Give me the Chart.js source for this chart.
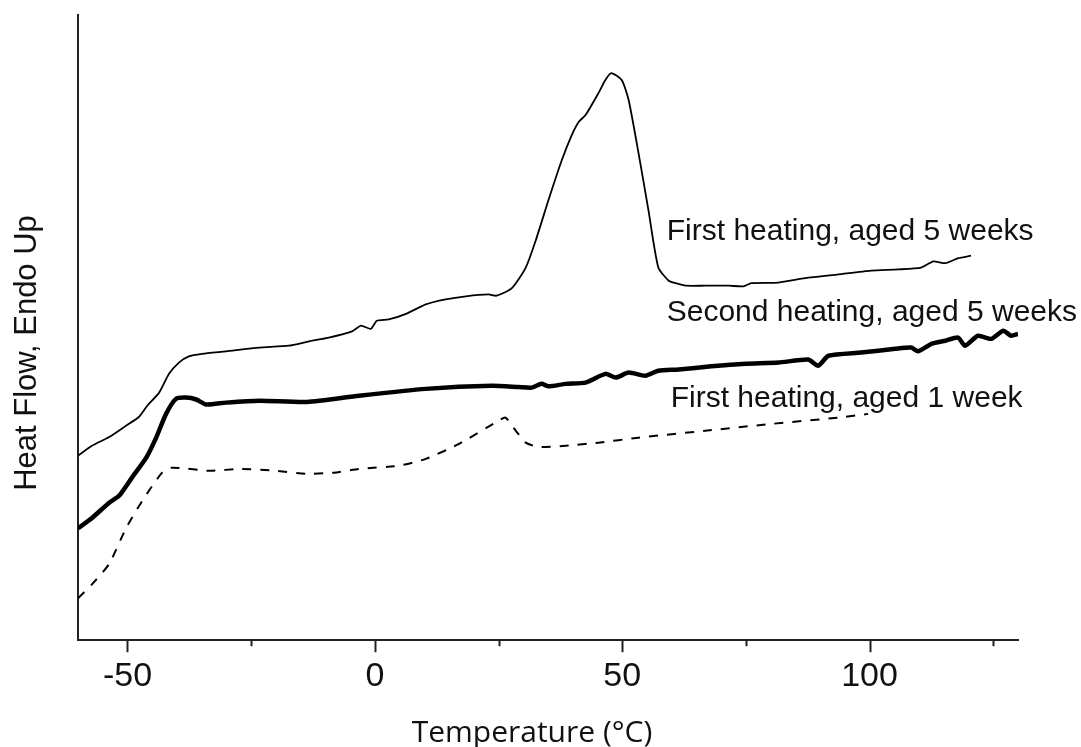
<!DOCTYPE html>
<html>
<head>
<meta charset="utf-8">
<script src="https://cdn.jsdelivr.net/npm/chart.js@4"></script>
<style>
  body { margin: 0; background: #fff; }
  #wrap { width: 1081px; height: 747px; }
</style>
</head>
<body>
<div id="wrap"><canvas id="dsc"></canvas></div>
<script>
// temperatures (°C) and heat flow (arbitrary units, endo up)
const temp5w1 = [-60, -57.2, -53.7, -50.3, -47.7, -46.0, -43.6, -41.6, -39.6, -37.6, -34.9, -30.1, -23.4, -17.4, -13.3, -9.3, -4.6, -2.8, -0.8, 0.4, 2.8, 6.3, 10.3, 14.3, 18.4, 23.0, 24.6, 27.7, 30.5, 32.5, 35.1, 37.8, 39.8, 41.2, 42.6, 45.2, 46.6, 47.8, 49.9, 51.3, 53.3, 55.3, 57.3, 59.4, 60.8, 62.8, 66.8, 71.5, 74.5, 76.1, 81.6, 87.0, 93.7, 100.3, 105.8, 110.4, 112.9, 115.3, 117.9, 120.5];
const heat5w1 = [29.5, 31.1, 32.5, 34.3, 35.7, 37.5, 39.6, 42.6, 44.4, 45.4, 45.8, 46.2, 46.8, 47.1, 47.8, 48.4, 49.4, 50.3, 49.8, 51.1, 51.3, 52.2, 53.7, 54.5, 55.0, 55.3, 55.1, 56.3, 59.6, 63.9, 70.4, 76.8, 80.8, 82.9, 84.0, 87.5, 89.6, 90.7, 89.6, 86.4, 77.9, 68.8, 59.6, 57.5, 57.1, 56.7, 56.7, 56.7, 56.6, 57.1, 57.2, 57.9, 58.5, 59.1, 59.3, 59.6, 60.6, 60.3, 61.1, 61.5];

const temp5w2 = [-60, -57.1, -53.7, -51.7, -49.1, -46.2, -44.2, -42.2, -40.2, -38.2, -36.1, -34.1, -30.1, -23.4, -13.7, -3.2, 10.3, 23.6, 29.1, 31.7, 33.7, 35.1, 38.6, 42.6, 46.6, 48.7, 51.3, 54.7, 57.3, 61.4, 68.0, 74.9, 81.6, 87.6, 89.6, 91.7, 98.3, 105.2, 108.4, 109.8, 112.5, 115.3, 117.9, 119.3, 121.9, 124.6, 127.0, 128.6, 130];
const heat5w2 = [17.9, 19.6, 22.0, 23.1, 26.0, 29.2, 32.4, 36.2, 38.6, 38.8, 38.5, 37.7, 38.0, 38.3, 38.1, 39.1, 40.2, 40.7, 40.5, 40.4, 41.0, 40.6, 41.0, 41.2, 42.6, 42.0, 42.8, 42.3, 43.1, 43.3, 43.8, 44.2, 44.4, 44.9, 43.9, 45.5, 46.0, 46.6, 46.8, 46.2, 47.4, 47.9, 48.4, 47.1, 48.7, 48.2, 49.5, 48.7, 49.0];

const temp1w1 = [-60, -57.1, -53.7, -50.3, -47.0, -43.0, -41.0, -33.5, -26.9, -20.0, -13.9, -8.3, -3.2, 4.8, 10.3, 17.0, 25.0, 26.4, 28.5, 30.5, 33.1, 38.6, 45.2, 53.3, 66.8, 80.2, 93.7, 99.7];
const heat1w1 = [6.7, 9.0, 12.2, 17.9, 22.3, 26.8, 27.6, 27.1, 27.4, 27.1, 26.6, 26.8, 27.4, 27.9, 29.0, 31.4, 35.1, 35.6, 33.5, 31.6, 30.9, 31.1, 31.6, 32.4, 33.5, 34.6, 35.6, 36.2];

const seriesNames = ['First heating, aged 5 weeks', 'Second heating, aged 5 weeks', 'First heating, aged 1 week'];
// where each curve label sits, in data units (left edge, vertical middle)
const labelTemps = [59, 59, 59.8];
const labelHeats = [65.3, 52.3, 38.7];

const xTicksMajor = [-50, 0, 50, 100];

const toPts = (xs, ys) => xs.map((x, i) => ({ x: x, y: ys[i] }));

const minorTicks = {
    id: 'minorTicks',
    afterDraw(chart) {
        const c = chart.ctx;
        const sx = chart.scales.x;
        const bottom = chart.chartArea.bottom;
        c.save();
        c.strokeStyle = '#222';
        c.lineWidth = 2;
        sx.ticks.forEach(t => {
            const px = Math.round(sx.getPixelForValue(t.value)) + 0.5;
            const len = xTicksMajor.includes(t.value) ? 12 : 6;
            c.beginPath();
            c.moveTo(px, bottom);
            c.lineTo(px, bottom + len);
            c.stroke();
        });
        c.restore();
    }
};

const curveLabels = {
    id: 'curveLabels',
    afterDatasetsDraw(chart) {
        const c = chart.ctx;
        const sx = chart.scales.x, sy = chart.scales.y;
        c.save();
        c.fillStyle = '#111';
        c.font = '30px "Liberation Sans", Arial, sans-serif';
        c.textAlign = 'left';
        c.textBaseline = 'middle';
        seriesNames.forEach((n, i) => {
            c.fillText(n, sx.getPixelForValue(labelTemps[i]), sy.getPixelForValue(labelHeats[i]));
        });
        c.restore();
    }
};

const axisTitles = {
    id: 'axisTitles',
    afterDraw(chart) {
        const c = chart.ctx;
        c.save();
        c.fillStyle = '#111';
        c.font = '30px "Open Sans", sans-serif';
        c.textAlign = 'center';
        c.textBaseline = 'alphabetic';
        c.fillText('Temperature (°C)', 532, 742);
        c.translate(36, 353);
        c.rotate(-Math.PI / 2);
        c.font = '31px "Liberation Sans", Arial, sans-serif';
        c.fillText('Heat Flow, Endo Up', 0, 0);
        c.restore();
    }
};

new Chart(document.getElementById('dsc'), {
    type: 'line',
    data: {
        datasets: [
            {
                label: seriesNames[0],
                data: toPts(temp5w1, heat5w1),
                borderColor: '#000',
                borderWidth: 1.8
            },
            {
                label: seriesNames[1],
                data: toPts(temp5w2, heat5w2),
                borderColor: '#000',
                borderWidth: 4.5
            },
            {
                label: seriesNames[2],
                data: toPts(temp1w1, heat1w1),
                borderColor: '#000',
                borderWidth: 2,
                borderDash: [9, 9]
            }
        ]
    },
    options: {
        responsive: true,
        maintainAspectRatio: false,
        animation: false,
        layout: { padding: { left: 78, right: 63, top: 15, bottom: 34 } },
        elements: { point: { radius: 0 }, line: { tension: 0.2 } },
        plugins: {
            legend: { display: false },
            tooltip: { enabled: false }
        },
        scales: {
            x: {
                type: 'linear',
                min: -60,
                max: 130,
                grid: { display: false, drawTicks: false },
                border: { display: true, color: '#222', width: 2 },
                ticks: {
                    stepSize: 25,
                    includeBounds: false,
                    autoSkip: false,
                    maxRotation: 0,
                    padding: 16,
                    color: '#111',
                    font: { family: '"Liberation Sans", Arial, sans-serif', size: 34 },
                    callback: v => (xTicksMajor.includes(v) ? v : '')
                }
            },
            y: {
                min: 0,
                max: 100,
                grid: { display: false, drawTicks: false },
                border: { display: true, color: '#222', width: 2 },
                ticks: { display: false }
            }
        }
    },
    plugins: [minorTicks, curveLabels, axisTitles]
});
</script>
</body>
</html>
